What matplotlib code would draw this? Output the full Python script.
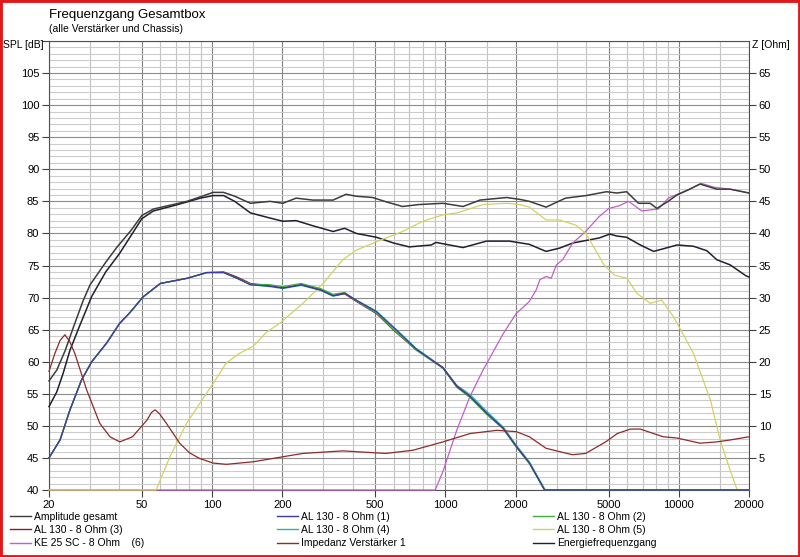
import numpy as np
import matplotlib
matplotlib.use("Agg")
import matplotlib.pyplot as plt
from matplotlib.lines import Line2D
from matplotlib.patches import Rectangle
from matplotlib.ticker import NullFormatter

plt.rcParams['font.family'] = ['Liberation Sans', 'DejaVu Sans']

# (Hz, dB)
amp_total = [(20, 57.0), (21.6, 58.7), (23.5, 61.8), (25.4, 65.3), (28, 69.5), (30, 72.0),
             (35, 75.5), (39, 77.8), (45, 80.5), (50, 82.8), (56, 83.8), (68, 84.5),
             (78, 85.0), (89, 85.7), (101, 86.4), (112, 86.4), (125, 85.8), (146, 84.7),
             (177, 85.0), (201, 84.7), (229, 85.5), (270, 85.2), (330, 85.2), (375, 86.1),
             (415, 85.8), (488, 85.6), (560, 84.9), (655, 84.2), (768, 84.5), (976, 84.7),
             (1190, 84.2), (1407, 85.2), (1830, 85.6), (2090, 85.3), (2290, 85.0), (2700, 84.1),
             (3270, 85.5), (4000, 85.9), (4900, 86.5), (5420, 86.3), (5980, 86.5), (6720, 84.7),
             (7540, 84.7), (8060, 83.9), (9000, 85.0), (9830, 86.0), (11000, 86.8), (12330, 87.7),
             (14560, 86.9), (16600, 86.9), (19400, 86.4), (20000, 86.3)]

energy = [(20, 53.0), (21.6, 55.3), (23, 58.2), (24.6, 61.8), (27, 65.5), (30.5, 70.2),
          (35, 74.0), (40, 76.8), (45, 79.7), (50, 82.3), (56, 83.5), (68, 84.3),
          (78, 84.9), (89, 85.5), (101, 85.9), (112, 85.9), (125, 85.0), (146, 83.2),
          (177, 82.4), (201, 81.9), (229, 82.0), (270, 81.2), (330, 80.3), (370, 80.8),
          (415, 80.0), (506, 79.4), (600, 78.5), (700, 77.9), (870, 78.2), (910, 78.6),
          (1190, 77.8), (1500, 78.8), (1880, 78.8), (2290, 78.3), (2540, 77.6), (2700, 77.2),
          (3080, 77.7), (3510, 78.5), (4140, 79.0), (4570, 79.3), (5060, 79.9), (5420, 79.6),
          (5980, 79.4), (6840, 78.2), (7800, 77.2), (8570, 77.6), (9830, 78.2), (11560, 78.0),
          (13200, 77.3), (14560, 75.9), (16600, 75.1), (19400, 73.4), (20000, 73.2)]

woofer1 = [(20, 45.0), (22.3, 47.8), (24.6, 52.5), (27.6, 57.2), (30.5, 60.0), (35.3, 62.9),
           (40.2, 66.0), (44.3, 67.6), (50.6, 70.1), (60, 72.2), (78, 73.0), (95, 73.9),
           (112, 73.9), (128, 73.0), (146, 72.0), (177, 71.8), (201, 71.5), (241, 72.0),
           (292, 71.2), (330, 70.3), (370, 70.7), (415, 69.6), (506, 67.8), (613, 65.0),
           (748, 62.0), (976, 59.0), (1120, 56.1), (1275, 54.6), (1500, 52.0), (1770, 49.6),
           (2010, 46.8), (2290, 44.2), (2660, 40.0), (20000, 40.0)]

woofer2 = [(20, 45.0), (22.3, 47.8), (24.6, 52.5), (27.6, 57.2), (30.5, 60.0), (35.3, 62.9),
           (40.2, 66.0), (44.3, 67.6), (50.6, 70.1), (60, 72.2), (78, 73.0), (95, 73.9),
           (112, 73.9), (128, 73.0), (146, 72.1), (177, 72.0), (201, 71.7), (241, 72.2),
           (292, 71.4), (330, 70.5), (370, 70.8), (415, 69.5), (506, 67.6), (613, 64.7),
           (748, 61.8), (976, 59.0), (1120, 56.0), (1275, 54.4), (1500, 51.8), (1770, 49.5),
           (2010, 46.7), (2290, 44.1), (2660, 40.0), (20000, 40.0)]

woofer3 = [(20, 45.0), (22.3, 47.8), (24.6, 52.5), (27.6, 57.2), (30.5, 60.0), (35.3, 62.9),
           (40.2, 66.0), (44.3, 67.6), (50.6, 70.1), (60, 72.2), (78, 73.0), (95, 73.9),
           (112, 74.0), (128, 73.2), (146, 72.2), (177, 71.8), (201, 71.5), (241, 72.0),
           (292, 71.2), (330, 70.3), (370, 70.6), (415, 69.4), (506, 67.5), (613, 64.6),
           (748, 61.9), (976, 59.1), (1120, 56.2), (1275, 54.6), (1500, 52.0), (1770, 49.6),
           (2010, 46.8), (2290, 44.2), (2660, 40.0), (20000, 40.0)]

woofer4 = [(20, 45.0), (22.3, 47.8), (24.6, 52.5), (27.6, 57.2), (30.5, 60.0), (35.3, 62.9),
           (40.2, 66.0), (44.3, 67.6), (50.6, 70.1), (60, 72.2), (78, 73.0), (95, 73.9),
           (112, 73.9), (128, 73.0), (146, 72.0), (177, 71.7), (201, 71.4), (241, 71.9),
           (292, 71.1), (330, 70.2), (370, 70.6), (415, 69.6), (506, 67.9), (613, 65.1),
           (748, 62.1), (976, 59.1), (1120, 56.3), (1275, 54.9), (1500, 52.3), (1770, 49.8),
           (2010, 47.0), (2290, 44.4), (2680, 40.0), (20000, 40.0)]

midrange = [(20, 40.0), (57.5, 40.0), (66, 45.2), (77.8, 50.4), (88.6, 53.5), (101, 56.6),
            (115, 59.8), (131, 61.3), (150, 62.4), (171, 64.6), (195, 66.0), (245, 69.1),
            (299, 72.2), (363, 75.9), (415, 77.4), (506, 78.7), (655, 80.3), (800, 81.9),
            (976, 82.9), (1120, 83.2), (1450, 84.5), (1830, 84.7), (2090, 84.5), (2290, 84.1),
            (2700, 82.1), (3080, 82.1), (3620, 81.3), (4000, 80.0), (4780, 75.1), (5300, 73.5),
            (6000, 73.0), (6600, 70.7), (7540, 69.1), (8450, 69.6), (9500, 67.0), (11560, 61.3),
            (13680, 54.0), (15040, 47.8), (16600, 43.1), (17800, 40.0), (20000, 40.0)]

tweeter = [(20, 40.0), (904, 40.0), (976, 42.9), (1120, 49.4), (1275, 54.6), (1450, 58.7),
           (1770, 64.4), (2010, 67.5), (2290, 69.4), (2450, 71.2), (2540, 72.8), (2710, 73.3),
           (2840, 73.0), (2990, 75.1), (3180, 75.9), (3510, 78.5), (3990, 80.3), (4550, 82.6),
           (5020, 83.9), (5540, 84.3), (6100, 85.0), (6940, 83.5), (7660, 83.7), (8180, 83.8),
           (9010, 85.5), (10970, 86.8), (12500, 87.8), (14200, 87.2), (16600, 86.9), (20000, 86.3)]

# (Hz, Ohm) right axis
impedance = [(20, 18.5), (21.2, 21.3), (22.3, 23.3), (23.4, 24.2), (24.5, 23.2), (25.8, 21.3),
             (29, 15.6), (33, 10.4), (36.5, 8.3), (40.2, 7.5), (45.6, 8.3), (52.6, 10.9),
             (55, 12.1), (57, 12.5), (59.5, 11.9), (63.7, 10.4), (72.6, 7.3), (80, 5.8),
             (88.6, 4.9), (101, 4.2), (115, 4.0), (150, 4.4), (195, 5.1), (245, 5.7),
             (363, 6.1), (555, 5.7), (726, 6.2), (976, 7.5), (1275, 8.8), (1660, 9.3),
             (2010, 9.1), (2290, 8.3), (2700, 6.5), (3500, 5.5), (3990, 5.7), (4860, 7.5),
             (5450, 8.8), (6200, 9.5), (6840, 9.5), (8570, 8.3), (9830, 8.1), (12330, 7.3),
             (14560, 7.5), (16600, 7.8), (20000, 8.3)]

x_major = [20, 50, 100, 200, 500, 1000, 2000, 5000, 10000, 20000]
x_minor = [30, 40, 60, 70, 80, 90, 150, 300, 400, 600, 700, 800, 900, 1500,
           3000, 4000, 6000, 7000, 8000, 9000, 15000]

series = [
    ("Amplitude gesamt", amp_total, "#3c3c3c", 1.1),
    ("AL 130 - 8 Ohm (1)", woofer1, "#3c3ca0", 0.9),
    ("AL 130 - 8 Ohm (2)", woofer2, "#40b040", 0.9),
    ("AL 130 - 8 Ohm (3)", woofer3, "#8c1c2c", 0.9),
    ("AL 130 - 8 Ohm (4)", woofer4, "#30b0b0", 0.9),
    ("AL 130 - 8 Ohm (5)", midrange, "#d2d264", 0.9),
    ("KE 25 SC - 8 Ohm    (6)", tweeter, "#c060c8", 0.9),
    ("Impedanz Verstärker 1", impedance, "#8e2a2a", 0.9),
    ("Energiefrequenzgang", energy, "#202030", 1.1),
]

fig = plt.figure(figsize=(8, 5.57), dpi=100)
ax = fig.add_axes([49 / 800, 1 - 490 / 557, 700 / 800, 449 / 557])
ax.set_xscale('log')
ax.set_xlim(20, 20000)
ax.set_ylim(40, 110)

ax.set_xticks(x_major)
ax.set_xticklabels([str(v) for v in x_major])
ax.set_xticks(x_minor, minor=True)
ax.xaxis.set_minor_formatter(NullFormatter())
ax.set_yticks(range(40, 111, 5))
ax.set_yticklabels([str(v) if v < 110 else "" for v in range(40, 111, 5)])
ax.set_yticks(range(40, 111, 1), minor=True)

ax.grid(which='minor', axis='y', color='#cccccc', lw=0.8)
ax.grid(which='major', axis='y', color='#8c8c8c', lw=0.8)
ax.grid(which='minor', axis='x', color='#c2c2c2', lw=0.8)
ax.grid(which='major', axis='x', color='#808080', lw=0.8)
ax.set_axisbelow(True)
ax.tick_params(which='major', direction='out', length=5, width=0.8, color='#404040',
               labelsize=8, pad=2)
ax.tick_params(which='minor', length=0)
for s in ax.spines.values():
    s.set_color('#505050')
    s.set_linewidth(0.8)

ax2 = ax.twinx()
ax2.set_ylim(0, 70)
ax2.set_yticks(range(5, 66, 5))
ax2.tick_params(direction='out', length=5, width=0.8, color='#404040', labelsize=8, pad=2)
for s in ax2.spines.values():
    s.set_visible(False)

n = len(series)
for i, (label, data, color, lw) in enumerate(series):
    f = [p[0] for p in data]
    v = [p[1] for p in data]
    target = ax2 if data is impedance else ax
    target.plot(f, v, color=color, lw=lw, zorder=10 + n - i, clip_on=False)

fig.text(49 / 800, 1 - 18 / 557, "Frequenzgang Gesamtbox", fontsize=9.5, va='baseline')
fig.text(49 / 800, 1 - 32 / 557, "(alle Verstärker und Chassis)", fontsize=7.5, va='baseline')
fig.text(44 / 800, 1 - 45 / 557, "SPL [dB]", fontsize=7.5, ha='right', va='center')
fig.text(752 / 800, 1 - 45 / 557, "Z [Ohm]", fontsize=7.5, ha='left', va='center')

# legend in three columns, filled row by row
col_x = [10 / 800, 277 / 800, 533 / 800]
for c, cx in enumerate(col_x):
    rows = series[c::3]
    handles = [Line2D([], [], color=r[2], lw=1.0) for r in rows]
    fig.legend(handles, [r[0] for r in rows], loc='upper left',
               bbox_to_anchor=(cx, 1 - 512 / 557), frameon=False, fontsize=7.5,
               handlelength=2.0, handletextpad=0.3, labelspacing=0.3,
               borderpad=0, borderaxespad=0)

fig.add_artist(Rectangle((0, 0), 1, 1, transform=fig.transFigure, fill=False,
                         edgecolor='#e01818', lw=3.5))

fig.savefig("out.png", dpi=100)
